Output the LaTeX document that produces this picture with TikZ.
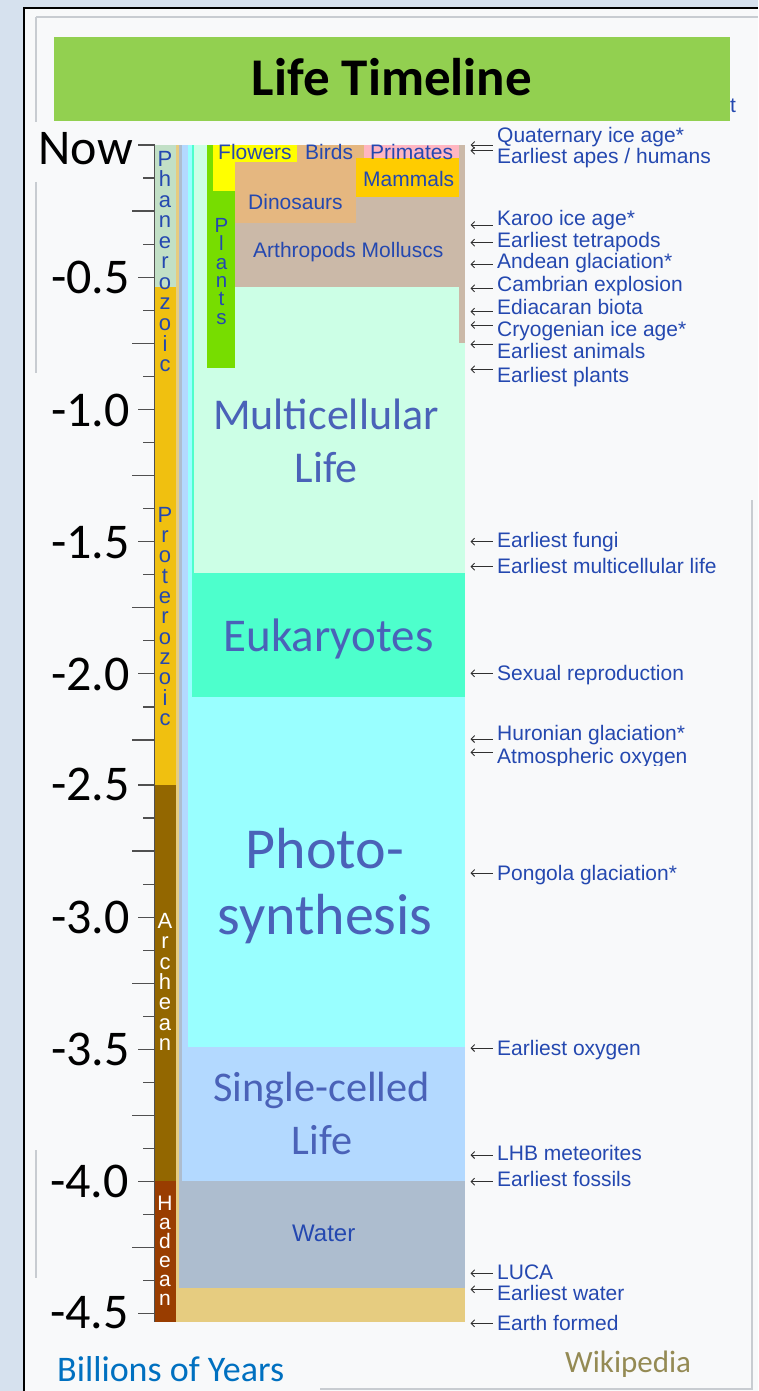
\documentclass[tikz,border=0pt]{standalone}
\usepackage{fontspec}
\setmainfont{Liberation Sans}
\newfontfamily\calfont{Carlito}
\usetikzlibrary{arrows.meta}
\definecolor{slidebg}{HTML}{D6E1EE}
\definecolor{panel}{HTML}{F8F9FA}
\definecolor{framegray}{HTML}{C8CCD1}
\definecolor{titlegreen}{HTML}{92D050}
\definecolor{wblue}{HTML}{2448B0}
\definecolor{bigblue}{HTML}{4A62B8}
\definecolor{axisgray}{HTML}{505050}
\definecolor{arrgray}{HTML}{303030}
\definecolor{phan}{HTML}{C2E0C6}
\definecolor{prot}{HTML}{F0C010}
\definecolor{arch}{HTML}{936700}
\definecolor{hade}{HTML}{993D00}
\definecolor{earthc}{HTML}{E6CC80}
\definecolor{waterc}{HTML}{ADBDCF}
\definecolor{singlec}{HTML}{B3D9FF}
\definecolor{photoc}{HTML}{99FFFF}
\definecolor{eukc}{HTML}{4DFFCC}
\definecolor{multic}{HTML}{CCFFE6}
\definecolor{plantc}{HTML}{77DD00}
\definecolor{flowerc}{HTML}{FFFF00}
\definecolor{dinoc}{HTML}{E5B780}
\definecolor{arthc}{HTML}{CBB9A8}
\definecolor{mammc}{HTML}{FFCC00}
\definecolor{primc}{HTML}{FFB6C1}
\definecolor{yearsblue}{HTML}{0070C0}
\definecolor{wikiolive}{HTML}{948A54}
\begin{document}
\begin{tikzpicture}[x=1pt,y=-1pt,
  ann/.style={anchor=base west, inner sep=0pt, text=wblue, font=\fontsize{21}{22}\selectfont},
  arr/.style={-{Straight Barb[length=3.5pt,width=7pt]}, line width=0.9pt, draw=arrgray},
  lbl/.style={anchor=base west, inner sep=0pt, text=wblue, font=\fontsize{21}{22}\selectfont},
  bigl/.style={anchor=base, inner sep=0pt, text=bigblue},
  axl/.style={anchor=base east, inner sep=0pt, font=\calfont\fontsize{50}{50}\selectfont},
  era/.style={anchor=north, inner sep=0pt, align=center},
  tick/.style={draw=axisgray, line width=1.3pt}
]
\useasboundingbox (0,0) rectangle (758,1391);
% backgrounds and frames
\fill[slidebg] (0,0) rectangle (758,1391);
\fill[panel] (24,8) rectangle (758,1391);
\draw[black, line width=2.5pt] (24,1391) -- (24,8) -- (758,8);
\draw[framegray, line width=1.2pt] (36,17) -- (758,17);
\draw[framegray, line width=1.2pt] (36,17) -- (36,122);
\draw[framegray, line width=1.2pt] (36,182) -- (36,373);
\draw[framegray, line width=1.2pt] (36,1150) -- (36,1278);
\draw[framegray, line width=1.2pt] (752,500) -- (752,1389) -- (320,1389);
% title
\node[anchor=base, inner sep=0pt, text=wblue, font=\fontsize{21}{22}\selectfont] (tfrag) at (733,113) {t};
\fill[titlegreen] (54,37) rectangle (730,121);
\node[anchor=base, inner sep=0pt, font=\calfont\bfseries\fontsize{53}{53}\selectfont] (title) at (392,96) {Life Timeline};
% nested life bars
\fill[earthc] (176,145) rectangle (465,1322);
\fill[waterc] (179,145) rectangle (465,1288);
\fill[singlec] (182,145) rectangle (465,1181);
\fill[photoc] (188,145) rectangle (465,1047);
\fill[eukc] (192,145) rectangle (465,697);
\fill[multic] (194,145) rectangle (465,573);
% phanerozoic groups
\fill[arthc] (235,145) rectangle (465,287);
\fill[arthc] (459,287) rectangle (465,343);
\fill[dinoc] (235,145) rectangle (356,223);
\fill[dinoc] (297,145) rectangle (364,162);
\fill[mammc] (356,158) rectangle (459,197);
\fill[primc] (364,145) rectangle (459,158);
\fill[plantc] (207,145) rectangle (235,368);
\fill[flowerc] (213,145) rectangle (235,191);
\fill[flowerc] (213,145) rectangle (297,162);
% eras
\fill[phan] (155,145) rectangle (176,287);
\fill[prot] (155,287) rectangle (176,785);
\fill[arch] (155,785) rectangle (176,1181);
\fill[hade] (155,1181) rectangle (176,1322);
% axis
\draw[draw=axisgray, line width=1.3pt] (154.5,145) -- (154.5,1322);
\foreach \k in {0,...,18} {
  \pgfmathsetmacro{\ty}{145+33.05*\k}
  \pgfmathtruncatemacro{\m}{mod(\k,4)}
  \ifnum\m=0 \draw[tick] (138,\ty) -- (154.5,\ty);
  \else\ifnum\m=2 \draw[tick] (132,\ty) -- (154.5,\ty);
  \else \draw[tick] (143,\ty) -- (154.5,\ty); \fi\fi
}
\foreach \k in {20,...,36} {
  \pgfmathsetmacro{\ty}{785+33.05*(\k-20)}
  \pgfmathtruncatemacro{\m}{mod(\k,4)}
  \ifnum\m=0 \draw[tick] (138,\ty) -- (154.5,\ty);
  \else\ifnum\m=2 \draw[tick] (132,\ty) -- (154.5,\ty);
  \else \draw[tick] (143,\ty) -- (154.5,\ty); \fi\fi
}
\node[axl] (ax0) at (133,165) {Now};
\node[axl] (ax1) at (130,293) {-0.5};
\node[axl] (ax2) at (130,426) {-1.0};
\node[axl] (ax3) at (130,558) {-1.5};
\node[axl] (ax4) at (130,690) {-2.0};
\node[axl] (ax5) at (130,800) {-2.5};
\node[axl] (ax6) at (130,933) {-3.0};
\node[axl] (ax7) at (130,1065) {-3.5};
\node[axl] (ax8) at (129,1197) {-4.0};
\node[axl] (ax9) at (129,1328) {-4.5};
% era labels
\node[era, text=wblue, font=\fontsize{22}{20.56}\selectfont] (ephan) at (165,150.7) {P\\h\\a\\n\\e\\r\\o\\z\\o\\i\\c};
\node[era, text=wblue, font=\fontsize{22}{20.36}\selectfont] (eprot) at (165,506.7) {P\\r\\o\\t\\e\\r\\o\\z\\o\\i\\c};
\node[era, text=white, font=\fontsize{22}{20.4}\selectfont] (earch) at (165,913) {A\\r\\c\\h\\e\\a\\n};
\node[era, text=white, font=\fontsize{21}{19.06}\selectfont] (ehade) at (165,1196) {H\\a\\d\\e\\a\\n};
\node[era, text=wblue, font=\fontsize{20.5}{18.4}\selectfont] (plants) at (221.5,218) {P\\l\\a\\n\\t\\s};
% group labels
\node[lbl] (flowers) at (218,159.5) {Flowers};
\node[lbl] (birds) at (305,159.5) {Birds};
\node[lbl] (primates) at (370,159.5) {Primates};
\node[lbl] (mammals) at (363,186.7) {Mammals};
\node[lbl] (dinos) at (248,209) {Dinosaurs};
\node[lbl] (arthro) at (253,257.3) {Arthropods Molluscs};
\node[anchor=base west, inner sep=0pt, text=wblue, font=\fontsize{24}{24}\selectfont] (water) at (292,1241) {Water};
% big labels
\node[bigl, font=\calfont\fontsize{44}{44}\selectfont] (mc1) at (326,429) {Multicellular};
\node[bigl, font=\calfont\fontsize{44}{44}\selectfont] (mc2) at (326,482) {Life};
\node[bigl, font=\calfont\fontsize{47}{47}\selectfont] (euk) at (328.5,651) {Eukaryotes};
\node[bigl, font=\calfont\fontsize{58}{58}\selectfont] (ph1) at (325,868) {Photo-};
\node[bigl, font=\calfont\fontsize{58}{58}\selectfont] (ph2) at (325,934) {synthesis};
\node[bigl, font=\calfont\fontsize{42.3}{42.3}\selectfont] (sc1) at (321.5,1101) {Single-celled};
\node[bigl, font=\calfont\fontsize{42.3}{42.3}\selectfont] (sc2) at (322,1154) {Life};
% annotations
\foreach \i/\yt/\ya/\t in {1/143/145/{Quaternary ice age*},2/164/150.7/{Earliest apes / humans},
  3/225/225/{Karoo ice age*},4/247/242.7/{Earliest tetrapods},5/268/264.3/{Andean glaciation*},
  6/291/288.3/{Cambrian explosion},7/314/311.7/{Ediacaran biota},8/336/325/{Cryogenian ice age*},
  9/358/344.3/{Earliest animals},10/382/369.3/{Earliest plants},11/547/541.7/{Earliest fungi},
  12/573/566.7/{Earliest multicellular life},13/680/673.3/{Sexual reproduction},
  14/740/739/{Huronian glaciation*},16/880.5/873/{Pongola glaciation*},
  17/1055.5/1048/{Earliest oxygen},18/1160.5/1155/{LHB meteorites},19/1186/1181.7/{Earliest fossils},
  20/1279/1273.3/{LUCA},21/1300/1289.3/{Earliest water},22/1330/1323.3/{Earth formed}} {
  \node[ann] (n\i) at (497,\yt) {\t};
  \coordinate (s\i) at (492.5,\ya);
  \coordinate (e\i) at (470.5,\ya);
  \draw[arr] (s\i) -- (e\i);
}
\begin{scope}
\clip (480,700) rectangle (758,765);
\node[ann] (n15) at (497,763) {Atmospheric oxygen};
\end{scope}
\coordinate (s15) at (492.5,752.3);
\coordinate (e15) at (470.5,752.3);
\draw[arr] (s15) -- (e15);
% footer
\node[anchor=base west, inner sep=0pt, text=yearsblue, font=\calfont\fontsize{36}{36}\selectfont] (years) at (57,1381) {Billions of Years};
\node[anchor=base west, inner sep=0pt, text=wikiolive, font=\calfont\fontsize{31}{31}\selectfont] (wiki) at (565,1372) {Wikipedia};
\end{tikzpicture}
\end{document}
